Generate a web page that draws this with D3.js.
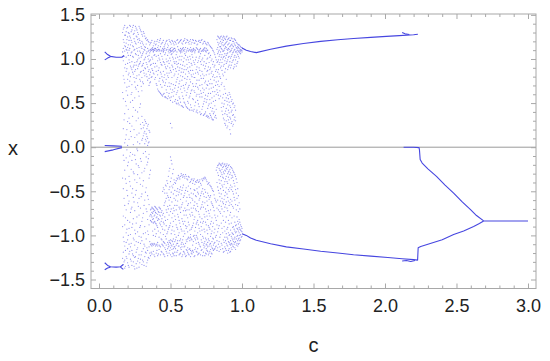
<!DOCTYPE html>
<html><head><meta charset="utf-8">
<script src="https://cdn.jsdelivr.net/npm/d3@7"></script>
<style>body{margin:0;background:#fff}text{font-family:"Liberation Sans",Arial,sans-serif}</style>
</head><body>
<svg id="chart" width="550" height="361"></svg>
<script>
// ---------- data ----------
const xTicks = [0, 0.5, 1, 1.5, 2, 2.5, 3];
const yTicks = [-1.5, -1, -0.5, 0, 0.5, 1, 1.5];
const xTitle = "c";
const yTitle = "x";

// periodic branches at small c
const upLeftA = [[0.04,1.08],[0.06,1.05],[0.08,1.03],[0.12,1.02],[0.16,1.02],[0.175,1.04]];
const upLeftB = [[0.04,0.99],[0.06,1.01],[0.08,1.025]];
const lowLeftA = [[0.04,-1.31],[0.06,-1.34],[0.08,-1.355],[0.12,-1.36],[0.15,-1.355],[0.17,-1.33]];
const lowLeftB = [[0.04,-1.39],[0.06,-1.37],[0.08,-1.36]];
const lowLeftC = [[0.15,-1.36],[0.17,-1.385]];
const zeroLeftA = [[0.04,0.02],[0.10,0.015],[0.16,0.01]];
const zeroLeftB = [[0.04,-0.05],[0.10,-0.03],[0.16,-0.005]];

// branches for c > 1
const upRight = [[1.0,1.125],[1.03,1.10],[1.06,1.085],[1.1,1.072],[1.2,1.11],[1.31,1.146],[1.43,1.175],[1.55,1.20],[1.67,1.218],[1.78,1.233],[1.9,1.245],[2.01,1.256],[2.1,1.265],[2.2,1.275],[2.23,1.28]];
const upRightTail = [[2.12,1.30],[2.14,1.285],[2.17,1.278]];
const lowRight = [[1.0,-0.98],[1.03,-1.0],[1.06,-1.03],[1.1,-1.055],[1.2,-1.095],[1.31,-1.13],[1.43,-1.155],[1.55,-1.18],[1.67,-1.20],[1.78,-1.22],[1.9,-1.235],[2.02,-1.25],[2.12,-1.265],[2.2,-1.275],[2.228,-1.28],[2.232,-1.14],[2.25,-1.125],[2.3,-1.10],[2.4,-1.05],[2.48,-0.99],[2.55,-0.95],[2.62,-0.90],[2.66,-0.865],[2.69,-0.837]];
const lowRightTail = [[2.12,-1.29],[2.15,-1.285],[2.18,-1.295],[2.21,-1.285]];
const midRight = [[2.13,0.0],[2.2,0.0],[2.238,-0.005],[2.241,-0.03],[2.246,-0.14],[2.26,-0.18],[2.3,-0.245],[2.36,-0.33],[2.42,-0.43],[2.48,-0.52],[2.54,-0.62],[2.6,-0.71],[2.64,-0.775],[2.69,-0.835]];
const fixedRight = [[2.69,-0.837],[3.0,-0.837]];

// chaotic region, columns A: [c, x values...]
const chaosA = [
[0.17,1.34,1.22,1.12,0.98,0.81,0.55,0.21,-0.09,-0.47,-0.78,-1.02,-1.19,-1.33],
[0.18,1.38,1.27,1.09,1.15,0.90,0.73,0.38,0.05,-0.26,-0.66,-0.88,-1.12,-1.28,-1.37],
[0.19,1.31,1.18,1.11,1.02,0.86,0.64,0.47,0.14,-0.12,-0.41,-0.71,-0.97,-1.08,-1.24],
[0.20,1.36,1.25,1.13,1.07,0.95,0.77,0.59,0.29,0.02,-0.21,-0.55,-0.83,-1.05,-1.15,-1.31],
[0.21,1.29,1.21,1.10,0.99,0.84,0.69,0.33,0.09,-0.33,-0.61,-0.92,-1.10,-1.21,-1.36],
[0.22,1.37,1.24,1.16,1.04,0.92,0.80,0.51,0.18,-0.06,-0.44,-0.74,-0.99,-1.13,-1.27],
[0.23,1.33,1.19,1.08,0.97,0.88,0.71,0.62,0.24,-0.15,-0.52,-0.68,-0.91,-1.17,-1.34],
[0.24,1.38,1.28,1.14,1.02,0.91,0.83,0.45,0.03,-0.28,-0.57,-0.81,-1.03,-1.23,-1.30],
[0.25,1.32,1.20,1.11,0.96,0.86,0.74,0.56,0.11,-0.09,-0.37,-0.72,-0.94,-1.11,-1.25,-1.38],
[0.26,1.35,1.26,1.17,1.05,0.93,0.78,0.66,0.30,-0.19,-0.49,-0.86,-1.07,-1.19,-1.32],
[0.27,1.30,1.22,1.09,0.99,0.89,0.70,0.40,0.06,-0.04,-0.31,-0.63,-0.96,-1.14,-1.29],
[0.28,1.37,1.23,1.13,1.01,0.94,0.82,0.58,0.16,-0.23,-0.58,-0.77,-1.01,-1.22,-1.36],
[0.29,1.33,1.18,1.07,0.97,0.85,0.75,0.49,0.26,-0.13,-0.42,-0.69,-0.89,-1.09,-1.27],
[0.30,1.28,1.20,1.12,1.04,0.92,0.79,0.64,0.35,0.08,-0.29,-0.53,-0.84,-1.06,-1.18,-1.33],
[0.31,1.31,1.16,1.08,0.95,0.87,0.72,0.22,0.13,-0.07,-0.38,-0.75,-0.98,-1.15,-1.30],
[0.32,1.26,1.14,1.10,1.00,0.90,0.81,0.31,0.18,0.04,-0.24,-0.60,-0.90,-1.12,-1.24],
[0.33,1.24,1.17,1.06,0.96,0.83,0.27,0.15,0.07,-0.11,-0.46,-0.70,-1.04,-1.20,-1.35],
[0.34,1.22,1.12,1.03,0.91,0.76,0.24,0.10,0.02,-0.17,-0.55,-0.82,-0.95,-1.17,-1.28],
[0.35,1.19,1.10,1.04,0.97,0.88,0.78,0.70,0.19,0.06,-0.08,-0.35,-0.65,-0.88,-1.13,-1.26],
[0.36,1.18,1.11,1.09,0.99,0.93,0.85,0.74,-0.26,-0.71,-0.76,-0.83,-1.10,-1.23],
[0.37,1.21,1.12,1.10,1.02,0.89,0.80,-0.68,-0.74,-0.79,-0.85,-1.09,-1.12,-1.21],
[0.38,1.15,1.11,1.09,1.08,0.95,0.84,-0.70,-0.73,-0.81,-0.86,-1.00,-1.11,-1.18],
[0.39,1.20,1.12,1.10,1.05,0.91,0.77,-0.67,-0.72,-0.77,-0.84,-0.93,-1.10,-1.24],
[0.40,1.17,1.11,1.09,1.03,0.86,0.72,-0.69,-0.75,-0.80,-0.87,-0.98,-1.11,-1.20],
[0.41,1.22,1.13,1.10,0.98,0.82,0.66,-0.71,-0.76,-0.83,-0.91,-1.08,-1.12,-1.23],
[0.42,1.19,1.11,1.09,1.01,0.90,0.75,0.63,-0.68,-0.74,-0.82,-1.02,-1.11,-1.16],
[0.43,1.23,1.14,1.06,0.96,0.85,0.71,0.61,-0.70,-0.78,-0.88,-0.97,-1.13,-1.22],
[0.44,1.18,1.10,1.03,0.93,0.80,0.68,0.59,-0.72,-0.81,-0.90,-1.05,-1.10,-1.19],
[0.45,1.21,1.11,1.09,1.08,0.97,0.86,0.74,0.60,-0.46,-0.75,-0.85,-0.99,-1.07,-1.12,-1.21],
[0.46,1.16,1.12,1.05,0.94,0.82,0.70,0.57,-0.52,-0.63,-0.79,-0.94,-1.09,-1.14,-1.24],
[0.47,1.20,1.10,1.00,0.89,0.77,0.65,0.56,-0.44,-0.58,-0.71,-0.89,-1.04,-1.11,-1.18],
[0.48,1.17,1.13,1.04,0.92,0.81,0.69,0.55,-0.41,-0.55,-0.67,-0.82,-0.96,-1.08,-1.15,-1.23],
[0.49,1.22,1.11,1.07,0.95,0.84,0.73,0.61,-0.27,-0.48,-0.60,-0.77,-0.91,-1.06,-1.12,-1.20],
[0.50,1.19,1.12,1.10,1.08,0.98,0.87,0.66,0.53,0.27,-0.11,-0.39,-0.57,-0.73,-0.86,-1.05,-1.09,-1.14,-1.22],
[0.51,1.21,1.13,1.09,1.06,0.93,0.79,0.62,0.22,-0.19,-0.44,-0.62,-0.80,-0.94,-1.06,-1.12,-1.16,-1.24],
[0.52,1.18,1.11,1.08,1.00,0.88,0.71,0.58,-0.25,-0.42,-0.53,-0.69,-0.84,-1.04,-1.10,-1.15,-1.21],
[0.53,1.20,1.12,1.09,0.95,0.83,0.67,0.52,-0.40,-0.49,-0.66,-0.78,-0.99,-1.07,-1.13,-1.19],
[0.54,1.17,1.05,0.97,0.86,0.74,0.60,0.50,-0.38,-0.55,-0.71,-0.88,-1.02,-1.11,-1.23],
[0.55,1.22,1.14,1.02,0.91,0.79,0.64,0.53,-0.36,-0.47,-0.61,-0.76,-0.93,-1.06,-1.09,-1.17],
[0.56,1.19,1.10,0.99,0.87,0.72,0.57,0.48,-0.34,-0.51,-0.68,-0.83,-0.97,-1.12,-1.22],
[0.57,1.21,1.12,1.09,1.07,0.94,0.81,0.66,0.51,-0.33,-0.45,-0.59,-0.74,-0.90,-1.04,-1.14,-1.20],
[0.58,1.18,1.11,1.08,1.03,0.89,0.76,0.62,0.47,-0.32,-0.49,-0.65,-0.81,-0.95,-1.08,-1.13,-1.24],
[0.59,1.20,1.13,1.10,0.97,0.85,0.70,0.55,0.45,-0.31,-0.43,-0.57,-0.72,-0.87,-1.01,-1.10,-1.18],
[0.60,1.23,1.11,1.06,0.92,0.78,0.64,0.50,-0.35,-0.52,-0.69,-0.84,-0.98,-1.12,-1.21],
[0.61,1.19,1.08,0.99,0.88,0.73,0.59,0.46,-0.33,-0.46,-0.61,-0.77,-0.92,-1.05,-1.16,-1.23],
[0.62,1.21,1.12,1.02,0.90,0.80,0.66,0.52,0.44,-0.37,-0.50,-0.66,-0.80,-0.96,-1.04,-1.14,-1.19],
[0.63,1.17,1.10,0.96,0.84,0.70,0.56,0.43,-0.34,-0.54,-0.71,-0.88,-1.03,-1.16,-1.22],
[0.64,1.22,1.13,1.09,1.00,0.87,0.74,0.61,0.48,-0.39,-0.47,-0.63,-0.78,-0.99,-1.02,-1.17,-1.24],
[0.65,1.19,1.11,1.08,1.05,0.93,0.80,0.65,0.42,-0.36,-0.58,-0.74,-0.91,-1.05,-1.18,-1.21],
[0.66,1.21,1.12,1.10,0.98,0.83,0.69,0.54,0.41,-0.38,-0.53,-0.69,-0.86,-1.01,-1.07,-1.19],
[0.67,1.18,1.09,1.07,0.94,0.79,0.62,0.47,-0.42,-0.49,-0.62,-0.79,-0.95,-1.03,-1.16,-1.23],
[0.68,1.20,1.13,1.02,0.88,0.72,0.58,0.40,-0.40,-0.56,-0.72,-0.87,-1.00,-1.09,-1.18],
[0.69,1.17,1.11,0.96,0.85,0.68,0.53,0.39,-0.37,-0.51,-0.67,-0.83,-0.97,-1.04,-1.15,-1.22],
[0.70,1.21,1.10,1.08,1.01,0.90,0.76,0.60,0.46,-0.39,-0.45,-0.60,-0.76,-0.92,-1.10,-1.20],
[0.71,1.19,1.12,1.06,0.97,0.81,0.64,0.37,-0.41,-0.55,-0.70,-0.85,-0.99,-1.13,-1.22],
[0.72,1.22,1.09,0.99,0.86,0.71,0.57,0.43,-0.36,-0.50,-0.65,-0.81,-0.94,-1.08,-1.16],
[0.73,1.18,1.11,1.09,0.93,0.78,0.62,0.49,0.36,-0.35,-0.53,-0.68,-0.84,-1.03,-1.11,-1.19],
[0.74,1.20,1.13,1.10,1.04,0.89,0.73,0.55,0.38,-0.34,-0.48,-0.63,-0.79,-0.96,-1.07,-1.12,-1.23],
[0.75,1.17,1.12,1.08,0.95,0.82,0.67,0.51,0.35,-0.37,-0.57,-0.73,-0.88,-1.05,-1.10,-1.15,-1.21],
[0.76,1.19,1.10,1.01,0.87,0.70,0.58,0.44,0.34,-0.42,-0.52,-0.66,-0.82,-0.98,-1.08,-1.13,-1.18],
[0.77,1.16,1.07,0.96,0.83,0.66,0.49,0.33,-0.40,-0.59,-0.75,-0.91,-1.06,-1.12,-1.20],
[0.78,1.14,1.04,0.90,0.77,0.61,0.45,0.36,-0.44,-0.55,-0.71,-0.87,-1.01,-1.09,-1.16,-1.24],
[0.79,1.12,1.00,0.86,0.72,0.56,0.41,0.32,-0.47,-0.64,-0.80,-0.95,-1.07,-1.14,-1.21],
[0.80,1.09,0.97,0.82,0.68,0.52,0.38,0.31,-0.50,-0.68,-0.86,-1.04,-1.11,-1.17],
[0.81,1.05,0.93,0.79,0.63,0.47,0.34,-0.58,-0.77,-0.93,-1.08,-1.15],
[0.82,0.99,0.88,0.74,0.60,0.43,0.33,-0.26,-0.62,-0.83,-1.00,-1.12],
[0.83,1.26,1.19,1.13,1.06,0.97,0.85,0.71,0.62,-0.21,-0.29,-0.45,-0.60,-0.78,-0.96,-1.14],
[0.84,1.24,1.18,1.10,1.03,0.94,0.83,0.69,0.55,-0.18,-0.24,-0.37,-0.52,-0.66,-0.89,-1.07,-1.18],
[0.85,1.25,1.20,1.14,1.08,0.99,0.90,0.78,0.58,-0.20,-0.27,-0.33,-0.47,-0.61,-0.75,-0.99,-1.16],
[0.86,1.22,1.16,1.11,1.05,0.96,0.87,0.73,0.50,0.41,-0.19,-0.25,-0.31,-0.43,-0.58,-0.70,-0.92,-1.11],
[0.87,1.26,1.21,1.15,1.09,1.02,0.92,0.81,0.60,0.46,0.33,-0.22,-0.28,-0.35,-0.49,-0.64,-0.83,-1.05,-1.19],
[0.88,1.23,1.17,1.12,1.06,0.98,0.85,0.66,0.53,0.38,0.27,-0.19,-0.26,-0.39,-0.55,-0.68,-0.95,-1.02,-1.13],
[0.89,1.25,1.19,1.13,1.04,0.95,0.77,0.56,0.44,0.30,-0.21,-0.24,-0.33,-0.46,-0.62,-0.79,-0.98,-1.09,-1.17],
[0.90,1.22,1.16,1.10,1.07,0.99,0.88,0.59,0.48,0.35,0.24,-0.23,-0.30,-0.41,-0.57,-0.72,-0.91,-1.04,-1.12,-1.20],
[0.91,1.24,1.18,1.11,1.03,0.93,0.62,0.51,0.39,0.28,-0.20,-0.27,-0.37,-0.50,-0.66,-0.87,-1.00,-1.08,-1.15],
[0.92,1.21,1.15,1.09,1.01,0.90,0.57,0.45,0.32,0.15,-0.22,-0.29,-0.43,-0.59,-0.74,-0.94,-1.06,-1.11,-1.18],
[0.93,1.23,1.17,1.12,1.05,0.96,0.54,0.42,0.29,-0.24,-0.32,-0.45,-0.61,-0.80,-0.97,-1.03,-1.10,-1.16],
[0.94,1.20,1.14,1.08,0.99,0.89,0.50,0.37,0.26,-0.28,-0.38,-0.53,-0.69,-0.90,-0.99,-1.07,-1.13],
[0.95,1.22,1.16,1.11,1.04,0.94,0.47,0.34,-0.31,-0.44,-0.60,-0.85,-0.95,-1.02,-1.08,-1.14],
[0.96,1.19,1.13,1.09,1.02,0.92,-0.36,-0.52,-0.71,-0.88,-0.96,-1.04,-1.11],
[0.97,1.17,1.14,1.10,1.05,0.97,-0.47,-0.66,-0.84,-0.93,-1.00,-1.06,-1.12],
[0.98,1.16,1.12,1.08,1.01,-0.63,-0.82,-0.91,-0.97,-1.03,-1.09],
[0.99,1.14,1.11,1.09,1.06,-0.88,-0.94,-0.99,-1.05],
[1.00,1.13,1.10,1.08,-0.92,-0.96,-1.01]
];

// chaotic region, columns B (between the A columns)
const chaosB = [
[0.165,1.30,1.08,0.62,-0.35,-0.90,-1.26],
[0.175,1.36,1.19,1.03,0.77,0.31,-0.15,-0.58,-1.07,-1.30],
[0.185,1.27,1.14,0.94,0.52,0.09,-0.36,-0.80,-1.17,-1.35],
[0.195,1.35,1.22,1.10,0.89,0.68,0.20,-0.03,-0.49,-0.93,-1.26],
[0.205,1.30,1.16,1.04,0.82,0.43,-0.17,-0.64,-1.00,-1.34],
[0.215,1.38,1.26,1.12,0.96,0.75,0.27,-0.10,-0.39,-0.85,-1.18],
[0.225,1.31,1.21,1.07,0.90,0.60,0.12,-0.25,-0.70,-1.09,-1.29],
[0.235,1.36,1.15,1.03,0.85,0.53,0.35,-0.08,-0.47,-0.87,-1.21],
[0.245,1.29,1.23,1.10,0.93,0.79,0.20,-0.30,-0.62,-1.05,-1.35],
[0.255,1.37,1.18,1.06,0.88,0.68,0.42,-0.14,-0.54,-0.98,-1.24],
[0.265,1.33,1.25,1.12,0.97,0.81,0.14,-0.02,-0.40,-0.79,-1.16,-1.37],
[0.275,1.28,1.19,1.04,0.92,0.63,0.33,-0.21,-0.67,-1.08,-1.26],
[0.285,1.35,1.21,1.09,0.95,0.77,0.45,0.04,-0.35,-0.91,-1.31],
[0.295,1.31,1.14,1.02,0.86,0.69,0.21,-0.16,-0.56,-1.02,-1.22],
[0.305,1.26,1.18,1.06,0.93,0.74,0.28,0.10,-0.44,-0.80,-1.28],
[0.315,1.29,1.11,0.99,0.84,0.25,0.16,-0.27,-0.66,-1.10,-1.34],
[0.325,1.23,1.13,1.02,0.89,0.29,0.09,-0.05,-0.51,-0.97,-1.19],
[0.335,1.21,1.08,0.94,0.80,0.21,0.12,-0.20,-0.73,-1.14,-1.31],
[0.345,1.20,1.09,1.00,0.86,0.26,0.05,-0.13,-0.59,-0.99,-1.25],
[0.355,1.16,1.07,0.98,0.82,0.73,0.17,-0.31,-0.78,-1.07,-1.20],
[0.365,1.19,1.10,0.94,0.79,-0.70,-0.77,-0.84,-1.11,-1.19],
[0.375,1.13,1.11,1.00,0.87,-0.69,-0.75,-0.82,-0.95,-1.10],
[0.385,1.18,1.10,1.04,0.83,-0.71,-0.78,-0.85,-1.09,-1.22],
[0.395,1.16,1.12,0.95,0.79,-0.68,-0.74,-0.86,-1.01,-1.12],
[0.405,1.20,1.09,0.92,0.70,-0.70,-0.79,-0.89,-1.10,-1.17],
[0.415,1.15,1.11,1.04,0.87,0.64,-0.73,-0.81,-0.95,-1.21],
[0.425,1.21,1.10,0.99,0.78,0.62,-0.69,-0.77,-0.86,-1.12],
[0.435,1.17,1.09,0.94,0.83,0.60,-0.74,-0.84,-1.04,-1.18],
[0.445,1.19,1.12,1.00,0.76,0.58,-0.50,-0.77,-0.93,-1.11],
[0.455,1.14,1.10,0.96,0.79,0.61,-0.48,-0.66,-0.87,-1.08,-1.22],
[0.465,1.18,1.07,0.91,0.73,0.57,-0.43,-0.61,-0.83,-1.01,-1.16],
[0.475,1.21,1.11,0.97,0.84,0.62,-0.38,-0.52,-0.74,-0.98,-1.20],
[0.485,1.15,1.09,0.98,0.79,0.58,-0.33,-0.57,-0.70,-0.93,-1.10,-1.13],
[0.495,1.20,1.10,1.01,0.90,0.69,0.56,-0.24,-0.45,-0.66,-0.89,-1.08,-1.17],
[0.505,1.17,1.09,1.05,0.85,0.72,0.57,-0.15,-0.35,-0.51,-0.70,-0.98,-1.11],
[0.515,1.20,1.10,1.02,0.91,0.65,0.51,-0.30,-0.46,-0.75,-0.90,-1.07,-1.20],
[0.525,1.16,1.12,0.97,0.81,0.63,-0.37,-0.58,-0.72,-0.95,-1.13,-1.23],
[0.535,1.19,1.10,1.01,0.89,0.70,0.54,-0.41,-0.60,-0.82,-1.05,-1.15],
[0.545,1.21,1.08,0.94,0.77,0.62,0.49,-0.35,-0.50,-0.66,-0.91,-1.09,-1.19],
[0.555,1.18,1.11,0.95,0.83,0.68,0.50,-0.32,-0.54,-0.79,-1.00,-1.12],
[0.565,1.20,1.09,1.03,0.90,0.75,0.55,-0.36,-0.48,-0.70,-0.86,-1.06,-1.21],
[0.575,1.22,1.10,0.99,0.85,0.69,0.47,-0.30,-0.53,-0.68,-0.93,-1.10,-1.16],
[0.585,1.17,1.12,0.93,0.80,0.58,0.46,-0.34,-0.46,-0.63,-0.84,-1.05,-1.22],
[0.595,1.21,1.09,1.01,0.88,0.67,0.51,-0.33,-0.55,-0.77,-0.95,-1.13,-1.19],
[0.605,1.18,1.13,1.04,0.83,0.71,0.48,-0.31,-0.49,-0.72,-0.89,-1.09,-1.24],
[0.615,1.22,1.10,0.94,0.77,0.62,0.45,-0.36,-0.57,-0.71,-0.90,-1.07,-1.17],
[0.625,1.19,1.09,0.99,0.86,0.68,0.50,-0.33,-0.44,-0.64,-0.85,-1.02,-1.21],
[0.635,1.20,1.11,1.03,0.91,0.77,0.58,0.42,-0.40,-0.57,-0.76,-0.94,-1.06,-1.15],
[0.645,1.17,1.10,0.95,0.82,0.64,0.45,-0.37,-0.52,-0.69,-0.93,-1.04,-1.20],
[0.655,1.22,1.09,1.02,0.87,0.72,0.55,-0.41,-0.60,-0.77,-0.89,-1.11,-1.17],
[0.665,1.18,1.11,0.96,0.79,0.64,0.43,-0.36,-0.48,-0.66,-0.82,-1.00,-1.24],
[0.675,1.21,1.10,0.99,0.84,0.69,0.51,-0.39,-0.55,-0.70,-0.91,-1.05,-1.14],
[0.685,1.16,1.12,0.91,0.76,0.60,0.42,-0.38,-0.47,-0.64,-0.85,-1.02,-1.19],
[0.695,1.20,1.08,0.98,0.83,0.66,0.49,-0.40,-0.53,-0.73,-0.88,-1.08,-1.21],
[0.705,1.19,1.11,1.03,0.87,0.70,0.57,0.40,-0.37,-0.58,-0.79,-0.95,-1.12],
[0.715,1.21,1.09,0.94,0.78,0.61,0.38,-0.43,-0.52,-0.68,-0.90,-1.05,-1.17],
[0.725,1.17,1.10,1.01,0.83,0.67,0.46,-0.38,-0.47,-0.62,-0.86,-1.01,-1.23],
[0.735,1.20,1.12,0.97,0.81,0.65,0.52,0.37,-0.36,-0.56,-0.76,-0.93,-1.09,-1.14],
[0.745,1.18,1.09,0.92,0.75,0.59,0.40,-0.35,-0.51,-0.70,-0.85,-1.03,-1.20],
[0.755,1.16,1.10,1.00,0.86,0.71,0.54,0.36,-0.39,-0.61,-0.78,-0.94,-1.11,-1.17],
[0.765,1.18,1.06,0.91,0.75,0.61,0.47,0.35,-0.41,-0.55,-0.72,-0.89,-1.04,-1.22],
[0.775,1.15,1.02,0.88,0.72,0.54,0.38,-0.43,-0.57,-0.78,-0.93,-1.10,-1.18],
[0.785,1.13,0.98,0.84,0.67,0.50,0.34,-0.45,-0.62,-0.84,-0.98,-1.12,-1.20],
[0.795,1.10,0.94,0.80,0.63,0.44,0.31,-0.49,-0.66,-0.90,-1.03,-1.15],
[0.805,1.07,0.91,0.76,0.58,0.40,-0.54,-0.72,-0.97,-1.09,-1.16],
[0.815,1.02,0.86,0.70,0.53,0.36,-0.60,-0.80,-1.02,-1.13],
[0.825,1.22,1.11,0.96,0.80,0.65,-0.23,-0.40,-0.69,-0.88,-1.06,-1.17],
[0.835,1.25,1.16,1.08,0.99,0.88,0.75,0.59,-0.20,-0.32,-0.49,-0.71,-0.92,-1.10],
[0.845,1.23,1.14,1.05,0.96,0.80,0.64,-0.19,-0.26,-0.41,-0.56,-0.73,-1.02,-1.13],
[0.855,1.26,1.18,1.12,1.02,0.92,0.71,0.45,-0.21,-0.29,-0.38,-0.53,-0.67,-0.86,-1.09],
[0.865,1.24,1.19,1.09,1.00,0.83,0.56,0.37,-0.18,-0.23,-0.34,-0.45,-0.62,-0.78,-0.97,-1.15],
[0.875,1.25,1.16,1.10,1.03,0.94,0.69,0.49,0.31,-0.20,-0.30,-0.42,-0.59,-0.73,-0.90,-1.08,-1.18],
[0.885,1.22,1.18,1.14,1.01,0.89,0.61,0.41,0.25,-0.22,-0.27,-0.36,-0.51,-0.65,-0.85,-1.06,-1.15],
[0.895,1.26,1.20,1.11,1.06,0.97,0.52,0.37,0.22,-0.19,-0.25,-0.39,-0.53,-0.69,-0.93,-1.02,-1.11],
[0.905,1.23,1.17,1.12,1.02,0.91,0.55,0.42,0.31,-0.21,-0.28,-0.34,-0.48,-0.61,-0.83,-0.97,-1.07,-1.17],
[0.915,1.21,1.14,1.08,0.97,0.60,0.47,0.34,0.20,-0.25,-0.31,-0.46,-0.63,-0.77,-0.99,-1.10,-1.19],
[0.925,1.24,1.16,1.10,1.03,0.93,0.52,0.40,0.27,-0.23,-0.35,-0.48,-0.65,-0.86,-1.01,-1.09,-1.14],
[0.935,1.20,1.15,1.07,0.98,0.49,0.36,0.24,-0.26,-0.34,-0.50,-0.67,-0.91,-0.98,-1.05,-1.12],
[0.945,1.23,1.18,1.10,1.02,0.91,0.45,0.31,-0.29,-0.41,-0.57,-0.78,-0.93,-1.04,-1.10],
[0.955,1.21,1.15,1.08,0.99,0.42,0.30,-0.33,-0.48,-0.65,-0.89,-0.97,-1.07,-1.16],
[0.965,1.18,1.12,1.07,0.95,-0.40,-0.58,-0.79,-0.92,-1.01,-1.09],
[0.975,1.16,1.13,1.09,1.03,-0.55,-0.73,-0.87,-0.95,-1.04,-1.10],
[0.985,1.15,1.10,1.07,-0.70,-0.85,-0.93,-1.00,-1.06],
[0.995,1.13,1.10,-0.90,-0.95,-1.02]
];

// ---------- drawing ----------
const svg = d3.select("#chart");
const L = 91, R = 536, T = 14, B = 288.5;
const x = d3.scaleLinear().domain([-0.056, 3.056]).range([L, R]);
const y = d3.scaleLinear().domain([-1.602, 1.51]).range([B, T]);
const frameCol = "#a8a8a8";
const blue = "#4646e0";

// zero line
svg.append("line").attr("x1", L).attr("x2", R).attr("y1", y(0)).attr("y2", y(0))
  .attr("stroke", "#9a9a9a").attr("stroke-width", 1);

// chaos points
const pts = [];
chaosA.concat(chaosB).forEach(row => { for (let i = 1; i < row.length; i++) pts.push([row[0], row[i]]); });
svg.append("g").selectAll("circle").data(pts).join("circle")
  .attr("cx", d => x(d[0])).attr("cy", d => y(d[1])).attr("r", 0.6)
  .attr("fill", "#4c4ce6").attr("opacity", 0.62);

// branches
const line = d3.line().x(d => x(d[0])).y(d => y(d[1]));
[upLeftA, upLeftB, lowLeftA, lowLeftB, lowLeftC, zeroLeftA, zeroLeftB,
 upRight, upRightTail, lowRight, lowRightTail, midRight, fixedRight].forEach(s => {
  svg.append("path").attr("d", line(s)).attr("fill", "none")
    .attr("stroke", blue).attr("stroke-width", 1.1).attr("stroke-linejoin", "round");
});

// frame
svg.append("rect").attr("x", L).attr("y", T).attr("width", R - L).attr("height", B - T)
  .attr("fill", "none").attr("stroke", frameCol).attr("stroke-width", 1);

const fmt = d3.format(".1f");
const xMinor = d3.range(0, 30.5, 1).map(v => v / 10).filter(v => !xTicks.some(t => Math.abs(t - v) < 1e-9));
const yMinor = d3.range(-15, 15.5, 1).map(v => v / 10).filter(v => !yTicks.some(t => Math.abs(t - v) < 1e-9));

function styleAxis(g) {
  g.select(".domain").remove();
  g.selectAll(".tick line").attr("stroke", frameCol);
  g.selectAll("text").attr("fill", "#222").style("font-size", "18px")
    .style("font-family", '"Liberation Sans", Arial, sans-serif');
}
svg.append("g").attr("transform", `translate(0,${B})`)
  .call(d3.axisBottom(x).tickValues(xTicks).tickFormat(fmt).tickSize(-5).tickPadding(11)).call(styleAxis);
svg.append("g").attr("transform", `translate(0,${B})`)
  .call(d3.axisBottom(x).tickValues(xMinor).tickFormat("").tickSize(-3)).call(styleAxis);
svg.append("g").attr("transform", `translate(0,${T})`)
  .call(d3.axisTop(x).tickValues(xTicks).tickFormat("").tickSize(-5)).call(styleAxis);
svg.append("g").attr("transform", `translate(0,${T})`)
  .call(d3.axisTop(x).tickValues(xMinor).tickFormat("").tickSize(-3)).call(styleAxis);
svg.append("g").attr("transform", `translate(${L},0)`)
  .call(d3.axisLeft(y).tickValues(yTicks).tickFormat(fmt).tickSize(-5).tickPadding(6)).call(styleAxis);
svg.append("g").attr("transform", `translate(${L},0)`)
  .call(d3.axisLeft(y).tickValues(yMinor).tickFormat("").tickSize(-3)).call(styleAxis);
svg.append("g").attr("transform", `translate(${R},0)`)
  .call(d3.axisRight(y).tickValues(yTicks).tickFormat("").tickSize(-5)).call(styleAxis);
svg.append("g").attr("transform", `translate(${R},0)`)
  .call(d3.axisRight(y).tickValues(yMinor).tickFormat("").tickSize(-3)).call(styleAxis);

// titles
svg.append("text").attr("x", (L + R) / 2).attr("y", 345).attr("text-anchor", "middle")
  .attr("dominant-baseline", "central").style("font-size", "20px").attr("fill", "#222").text(xTitle);
svg.append("text").attr("x", 13).attr("y", y(0) + 1).attr("text-anchor", "middle")
  .attr("dominant-baseline", "central").style("font-size", "20px").attr("fill", "#222").text(yTitle);
</script>
</body></html>
